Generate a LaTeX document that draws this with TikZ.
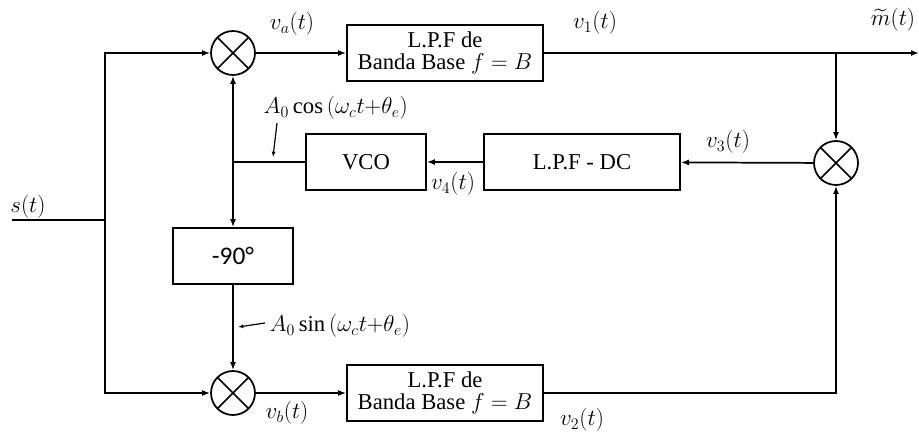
\documentclass[tikz,border=0pt]{standalone}
\usepackage{amsmath, amssymb}
\usepackage{fontspec}
\setmainfont{Liberation Serif}
\newfontfamily\degfont{Carlito}
\usepackage{tikz}
\usetikzlibrary{arrows.meta, positioning}

\begin{document}
\begin{tikzpicture}[
    x=0.75pt, y=-0.75pt,
    font=\fontsize{17}{19}\selectfont,
    box/.style={
        rectangle, draw, line width=1.3pt, align=center,
        minimum width=147pt, minimum height=42pt, inner sep=1pt
    },
    smallbox/.style={
        rectangle, draw, line width=1.3pt, align=center,
        minimum width=90pt, minimum height=42pt
    },
    mixer/.style={
        circle, draw, line width=1.3pt, minimum size=33pt, inner sep=0pt,
        path picture={
            \draw[line width=1.3pt] (path picture bounding box.north west) -- (path picture bounding box.south east)
                (path picture bounding box.north east) -- (path picture bounding box.south west);
        }
    },
    arr/.style={-{Latex[length=6pt, width=4.5pt]}, line width=1.3pt},
    ptr/.style={-{Latex[length=4pt, width=3pt]}, line width=0.9pt},
    lbl/.style={inner sep=1pt}
]
\useasboundingbox (0,0) rectangle (919,436);

% blocks
\node[mixer] (m1) at (233,53) {};
\node[box] (lpf1) at (445,53) {L.P.F de\\[-3pt] Banda Base $f=B$};
\node[mixer] (m3) at (836,163) {};
\node[box] (lpfdc) at (582,162) {L.P.F - DC};
\node[smallbox] (vco) at (366,162) {VCO};
\node[smallbox] (shift) at (233,256) {\degfont\fontsize{19}{21}\selectfont -90°};
\node[mixer] (m2) at (233,393) {};
\node[box] (lpf2) at (445,393) {L.P.F de\\[-3pt] Banda Base $f=B$};

% junctions and free ends
\coordinate (in) at (12,220);
\coordinate (split) at (105,220);
\coordinate (j1) at (836,53);
\coordinate (j2) at (233,162);
\coordinate (out) at (919,53);

% labels
\node[lbl] (sl) at (28,207) {$s(t)$};
\node[lbl] (val) at (292,24) {$v_a(t)$};
\node[lbl] (v1l) at (595,23) {$v_1(t)$};
\node[lbl] (ml) at (893,20) {$\widetilde{m}(t)$};
\node[lbl] (v3l) at (728,142) {$v_3(t)$};
\node[lbl] (v4l) at (453,184) {$v_4(t)$};
\node[lbl] (vbl) at (287,413) {$v_b(t)$};
\node[lbl] (v2l) at (582,420) {$v_2(t)$};
\node[lbl, anchor=west] (cosl) at (262,108) {$A_0\cos\,(\omega_c t{+}\theta_e)$};
\node[lbl, anchor=west] (sinl) at (268,326) {$A_0\sin\,(\omega_c t{+}\theta_e)$};
\coordinate (cosp) at (273,157);
\coordinate (sinp) at (238,327);

% signal paths
\draw[line width=1.3pt] (in) -- (split);
\draw[arr] (split) |- (m1);
\draw[arr] (split) |- (m2);
\draw[arr] (m1) -- (lpf1);
\draw[arr] (lpf1) -- (out);
\draw[arr] (j1) -- (m3);
\draw[arr] (lpf2) -| (m3);
\draw[arr] (m3) -- (lpfdc);
\draw[arr] (lpfdc) -- (vco);
\draw[line width=1.3pt] (vco) -- (j2);
\draw[arr] (j2) -- (m1);
\draw[arr] (j2) -- (shift);
\draw[arr] (shift) -- (m2);
\draw[arr] (m2) -- (lpf2);

% pointers
\draw[ptr] (277,123) -- (cosp);
\draw[ptr] (sinl.west) ++(-3,-3) -- (sinp);

\end{tikzpicture}
\end{document}
